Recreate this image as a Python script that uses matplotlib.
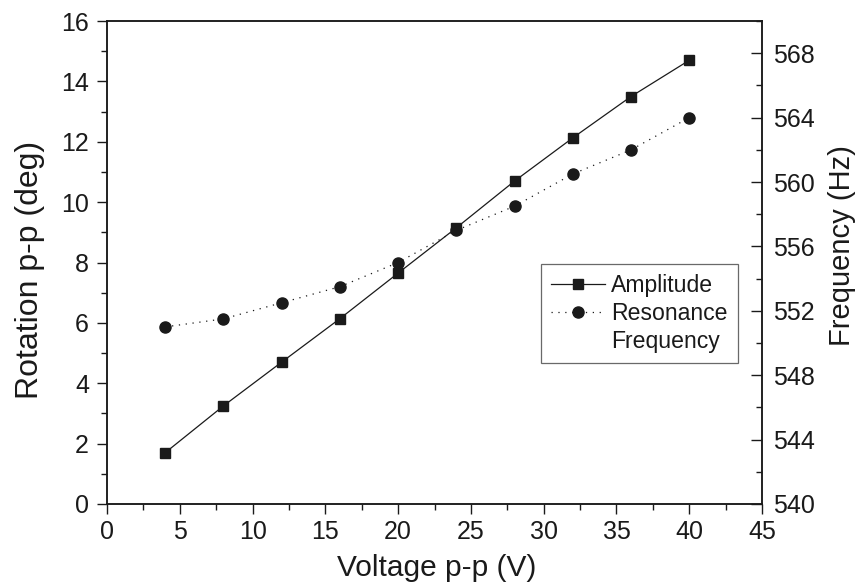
import matplotlib

matplotlib.use("Agg")
import matplotlib.pyplot as plt
from matplotlib.lines import Line2D
from matplotlib.ticker import MultipleLocator

plt.rcParams["font.family"] = ["Liberation Sans", "DejaVu Sans"]

voltage = [4, 8, 12, 16, 20, 24, 28, 32, 36, 40]
amplitude = [1.70, 3.25, 4.70, 6.14, 7.65, 9.15, 10.70, 12.13, 13.50, 14.70]
res_freq = [551.0, 551.5, 552.5, 553.5, 555.0, 557.0, 558.5, 560.5, 562.0, 564.0]

INK = "#1a1a1a"

fig = plt.figure(figsize=(8.63, 5.85), dpi=100)
ax = fig.add_axes([0.124, 0.1385, 0.759, 0.8255])
ax2 = ax.twinx()

l1, = ax.plot(voltage, amplitude, color=INK, lw=0.9, ls="-", marker="s", ms=7,
              label="Amplitude")
l2, = ax2.plot(voltage, res_freq, color=INK, lw=0.9, ls=(0, (1, 4.5)), marker="o", ms=8,
               label="Resonance")

ax.set_xlim(0, 45)
ax.set_ylim(0, 16)
ax2.set_ylim(540, 570)

ax.xaxis.set_major_locator(MultipleLocator(5))
ax.xaxis.set_minor_locator(MultipleLocator(2.5))
ax.yaxis.set_major_locator(MultipleLocator(2))
ax.yaxis.set_minor_locator(MultipleLocator(1))
ax2.yaxis.set_major_locator(MultipleLocator(4))
ax2.yaxis.set_minor_locator(MultipleLocator(2))

ax.tick_params(which="major", direction="out", length=7, width=1.0, labelsize=18,
               colors=INK)
ax.tick_params(which="minor", direction="out", length=4, width=1.0, colors=INK)
ax.tick_params(axis="x", which="major", pad=4.5)
ax.tick_params(axis="y", which="major", pad=6)
ax2.tick_params(which="major", direction="in", length=8, width=1.0, labelsize=18,
                colors=INK, pad=8)
ax2.tick_params(which="minor", direction="in", length=4, width=1.0, colors=INK)
for a in (ax, ax2):
    for s in a.spines.values():
        s.set_color(INK)
        s.set_linewidth(1.1)

ax.set_xlabel("Voltage p-p (V)", fontsize=21.5, color=INK)
ax.set_ylabel("Rotation p-p (deg)", fontsize=23, color=INK)
ax2.set_ylabel("Frequency (Hz)", fontsize=21, color=INK)
ax.xaxis.set_label_coords(0.503, -0.103)
ax.yaxis.set_label_coords(-0.094, 0.484)
ax2.yaxis.set_label_coords(1.100, 0.536)

blank = Line2D([], [], color="none")
leg = ax2.legend(handles=[l1, l2, blank], labels=["Amplitude", "Resonance", "Frequency"],
                 loc="upper left", bbox_to_anchor=(0.662, 0.497),
                 borderaxespad=0, fontsize=16.6, frameon=True, fancybox=False,
                 handlelength=2.35, handletextpad=0.26, labelspacing=0.2,
                 borderpad=0.45)
leg.get_frame().set_edgecolor("#444444")
leg.get_frame().set_linewidth(0.9)
for t in leg.get_texts():
    t.set_color(INK)

fig.savefig("out.png", dpi=100, facecolor="white")
